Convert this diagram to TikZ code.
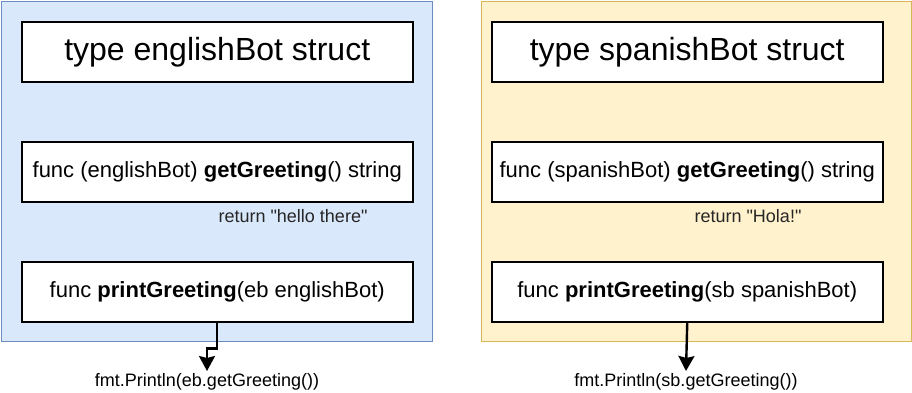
\documentclass[tikz,border=0pt]{standalone}
\usepackage{fontspec}
\setmainfont{Liberation Sans}
\usetikzlibrary{arrows.meta}
\definecolor{blueFill}{HTML}{DAE8FC}
\definecolor{blueLine}{HTML}{6C8EBF}
\definecolor{yellowFill}{HTML}{FFF2CC}
\definecolor{yellowLine}{HTML}{D6B656}
\definecolor{noteText}{HTML}{262626}
\tikzset{
  flow/.style={line width=2.4pt, arrows={-Stealth[length=15pt, width=16pt, inset=2pt]}}
}
\begin{document}
% coordinates: x to the right, y downwards written as negative values
\begin{tikzpicture}[x=1pt,y=1pt,
  panel/.style={draw, line width=1.2pt, anchor=north west, inner sep=0pt,
    minimum width=431pt, minimum height=340pt},
  codebox/.style={draw=black, line width=1.5pt, fill=white, anchor=north west,
    inner sep=0pt, minimum width=391pt, minimum height=60pt},
  titlefont/.style={font=\fontsize{32}{38}\selectfont},
  bodyfont/.style={font=\fontsize{22}{26}\selectfont},
  note/.style={font=\fontsize{18}{21}\selectfont, text=noteText, inner sep=0pt},
  callout/.style={font=\fontsize{18}{21}\selectfont, inner sep=0pt, anchor=north}]
\useasboundingbox (0,0) rectangle (912,-392);

% English bot
\node[panel, draw=blueLine, fill=blueFill] (epanel) at (1,-1) {};
\node[codebox, titlefont] (etype) at (21,-21) {type englishBot struct};
\node[codebox, bodyfont] (eget) at (21,-141) {func (englishBot) \textbf{getGreeting}() string};
\node[note] (eret) at (293,-216) {return \textquotedbl hello there\textquotedbl};
\node[codebox, bodyfont] (eprint) at (21,-261) {func \textbf{printGreeting}(eb englishBot)};
\node[callout] (efmt) at (207,-373) {fmt.Println(eb.getGreeting())};
\draw[flow] (eprint.south) -- ++(0,-26) -| ([yshift=2pt]efmt.north);

% Spanish bot
\node[panel, draw=yellowLine, fill=yellowFill, minimum width=430pt] (spanel) at (481,-1) {};
\node[codebox, titlefont] (stype) at (491,-21) {type spanishBot struct};
\node[codebox, bodyfont] (sget) at (491,-141) {func (spanishBot) \textbf{getGreeting}() string};
\node[note] (sret) at (748,-216) {return \textquotedbl Hola!\textquotedbl};
\node[codebox, bodyfont] (sprint) at (491,-261) {func \textbf{printGreeting}(sb spanishBot)};
\node[callout] (sfmt) at (686,-373) {fmt.Println(sb.getGreeting())};
\draw[flow] (sprint.south) -- ([yshift=2pt]sfmt.north);
\end{tikzpicture}
\end{document}
